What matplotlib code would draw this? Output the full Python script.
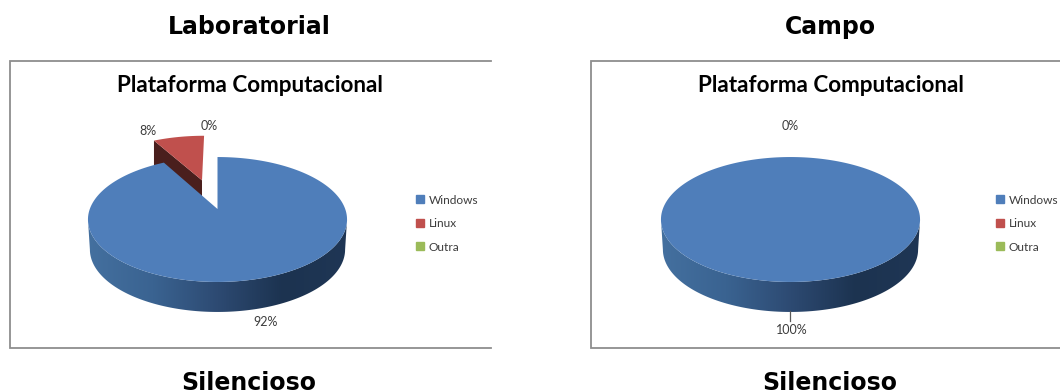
import numpy as np
import matplotlib

matplotlib.use('Agg')
import matplotlib.pyplot as plt
from matplotlib.colors import LinearSegmentedColormap
from matplotlib.patches import Patch, Polygon

panel_titles = ['Laboratorial', 'Campo']
footer_titles = ['Silencioso', 'Silencioso']
chart_title = 'Plataforma Computacional'
categories = ['Windows', 'Linux', 'Outra']
values_lab = [92, 8, 0]
values_campo = [100, 0, 0]
explode_lab = [0, 0.53, 0]
explode_campo = [0, 0, 0]

colors = ['#4f7eba', '#c0504d', '#9bbb59']
cut_color = '#4a1f1d'
text_color = '#3c3c3c'
frame_color = '#8e8e8e'

wall_cmap = LinearSegmentedColormap.from_list(
    'wall', ['#44709f', '#3a6391', '#2d4a72', '#1c3350', '#1f3655'])

# tilted disc, numbers fitted to the picture
DISC_A = 60.7
DISC_B = 127.7
DISC_K = -0.168
DEPTH = 30
BOTTOM_SHRINK = 0.985
N_ARC = 200


def project(u, v, cx, cy):
    den = 1 + DISC_K * v
    return cx + DISC_B * u / den, cy + DISC_A * v / den


def slice_xy(start, stop, offset, cx, cy):
    # angles are clockwise from the top of the pie, in fractions of a turn
    theta = 2 * np.pi * np.linspace(start, stop, N_ARC)
    mid = 2 * np.pi * (start + stop) / 2
    du, dv = offset * np.sin(mid), -offset * np.cos(mid)
    x, y = project(np.sin(theta) + du, -np.cos(theta) + dv, cx, cy)
    if stop - start < 1:
        ax_, ay_ = project(du, dv, cx, cy)
        x = np.r_[ax_, x]
        y = np.r_[ay_, y]
    return x, y


def draw_wall(ax, cx, cy):
    # front of the rim, from the widest point on the left round to the right
    theta = np.linspace(-np.pi / 2 + 0.17, np.pi / 2 - 0.17, N_ARC)
    xt, yt = project(np.sin(theta), np.cos(theta), cx, cy)
    xb = cx + (xt - cx) * BOTTOM_SHRINK
    yb = yt + DEPTH
    outline = np.column_stack([np.r_[xt, xb[::-1]], np.r_[yt, yb[::-1]]])
    clip = Polygon(outline, transform=ax.transData, fc='none', ec='none')
    ax.add_patch(clip)
    im = ax.imshow(np.linspace(0, 1, 256)[None, :], cmap=wall_cmap, aspect='auto',
                   extent=(xt.min(), xt.max(), yb.max(), yt.min()), zorder=2)
    im.set_clip_path(clip)


def draw_pie(ax, values, explode, cx, cy):
    draw_wall(ax, cx, cy)
    total = sum(values)
    start = 0
    for val, off, col in zip(values, explode, colors):
        frac = val / total
        if frac == 0:
            continue
        stop = start + frac
        x, y = slice_xy(start, stop, off, cx, cy)
        if off > 0:
            # cut face of the pulled out slice, the main slice hides most of it
            px, py = x[[0, 1]], y[[0, 1]]
            ax.fill(np.r_[px, px[::-1]], np.r_[py, py[::-1] + DEPTH], color=cut_color, lw=0, zorder=3)
        ax.fill(x, y, color=col, lw=0, zorder=4 if off == 0 else 3.5)
        start = stop


def draw_frame(ax, x0, x1):
    ax.plot([x1, x0, x0, x1], [60.5, 60.5, 347.5, 347.5], color=frame_color, lw=1.3, zorder=1,
            solid_joinstyle='miter', clip_on=True)


def draw_legend(ax, x, y):
    handles = [Patch(color=c, label=n) for c, n in zip(colors, categories)]
    return ax.legend(handles=handles, loc='upper left', bbox_to_anchor=(x, y),
                     bbox_transform=ax.transData, frameon=False,
                     handlelength=0.66, handleheight=0.66, handletextpad=0.42,
                     labelspacing=1.05, borderpad=0, borderaxespad=0,
                     prop={'family': 'Lato', 'size': 8.6}, labelcolor=text_color)


fig = plt.figure(figsize=(10.6, 3.92), dpi=100)
ax = fig.add_axes([0, 0, 1, 1])

draw_frame(ax, 10, 491)
draw_frame(ax, 590.5, 1061)

draw_pie(ax, values_lab, explode_lab, 217.5, 209)
draw_pie(ax, values_campo, explode_campo, 790.5, 209)

ax.add_artist(draw_legend(ax, 416, 194.5))
draw_legend(ax, 996, 194.5)

for xc, top, bottom in zip([249, 830], panel_titles, footer_titles):
    ax.text(xc, 27, top, ha='center', va='center', fontsize=17, fontweight='bold',
            family='DejaVu Sans', color='black')
    ax.text(xc, 382.5, bottom, ha='center', va='center', fontsize=17, fontweight='bold',
            family='DejaVu Sans', color='black')

for xc in [250, 830.5]:
    ax.text(xc, 85.5, chart_title, ha='center', va='center', fontsize=16.2, fontweight='bold',
            family='Lato', color='black')

pct_style = dict(ha='center', va='center', fontsize=9, family='Lato', color=text_color, zorder=6)
ax.text(265.5, 322.5, f'{values_lab[0]}%', **pct_style)
ax.text(148, 131, f'{values_lab[1]}%', **pct_style)
ax.text(209, 125.5, f'{values_lab[2]}%', **pct_style)
ax.text(792, 330, f'{values_campo[0]}%', **pct_style)
ax.text(790, 125.5, f'{values_campo[2]}%', **pct_style)
ax.plot([790, 790], [311, 321], color='#5a5a5a', lw=0.9, zorder=5)

ax.set_xlim(0, 1060)
ax.set_ylim(392, 0)
ax.axis('off')

fig.savefig('out.png', dpi=100)
